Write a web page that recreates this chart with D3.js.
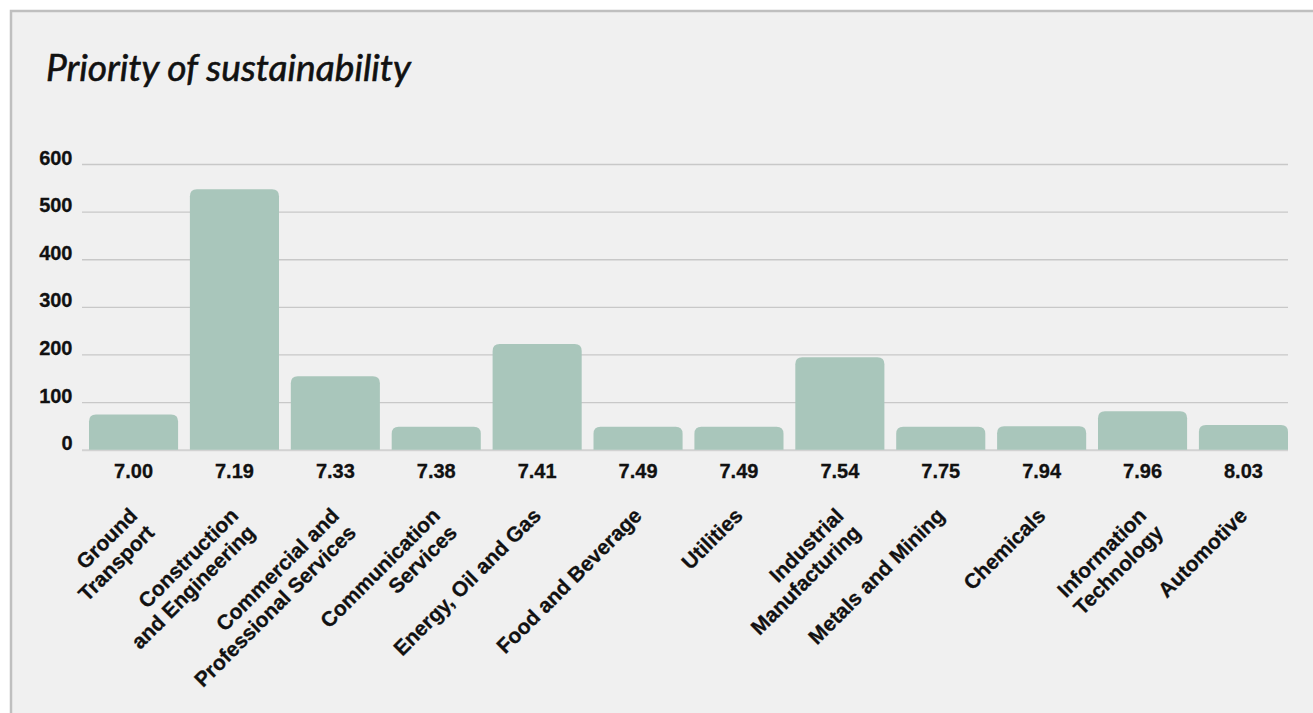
<!DOCTYPE html>
<html>
<head>
<meta charset="utf-8">
<script src="https://cdn.jsdelivr.net/npm/d3@7"></script>
<style>
  html, body { margin: 0; padding: 0; background: #ffffff; }
  svg { display: block; }
</style>
</head>
<body>
<svg id="chart" width="1313" height="713"></svg>
<script>
// Industry sectors, their average sustainability priority score, and respondent counts
const categories = [
  "Ground\nTransport",
  "Construction\nand Engineering",
  "Commercial and\nProfessional Services",
  "Communication\nServices",
  "Energy, Oil and Gas",
  "Food and Beverage",
  "Utilities",
  "Industrial\nManufacturing",
  "Metals and Mining",
  "Chemicals",
  "Information\nTechnology",
  "Automotive"
];
const scores = ["7.00", "7.19", "7.33", "7.38", "7.41", "7.49", "7.49", "7.54", "7.75", "7.94", "7.96", "8.03"];
const counts = [74, 547, 154, 48, 222, 48, 48, 194, 48, 49, 81, 52];
const yTicks = [0, 100, 200, 300, 400, 500, 600];

const svg = d3.select("#chart");
const W = 1313, H = 713;

// card background
svg.append("rect")
  .attr("x", 11).attr("y", 11)
  .attr("width", W + 20).attr("height", H + 20)
  .attr("fill", "#f0f0f0")
  .attr("stroke", "#bfbfbf")
  .attr("stroke-width", 2.5);

// title, sized to a fixed width
const title = svg.append("text")
  .attr("x", 46).attr("y", 81)
  .attr("font-family", "Lato, 'Noto Sans', sans-serif")
  .attr("font-style", "italic")
  .attr("font-size", 31)
  .attr("fill", "#111")
  .attr("stroke", "#111")
  .attr("stroke-width", 0.6)
  .text("Priority of sustainability");
const tw = title.node().getComputedTextLength();
title.attr("font-size", 31 * 365 / tw);

const plot = { left: 89, right: 1288, top: 164, bottom: 449.7 };

const x = d3.scaleBand()
  .domain(categories)
  .range([plot.left, plot.right])
  .paddingInner(0.117)
  .paddingOuter(0);

const y = d3.scaleLinear()
  .domain([0, 600])
  .range([plot.bottom, plot.top]);

const fontFam = "'Liberation Sans', Arial, Helvetica, sans-serif";

// y axis with gridlines
const gridLeft = 82;
const yAxis = svg.append("g")
  .attr("transform", `translate(${gridLeft},0)`)
  .call(d3.axisLeft(y)
    .tickValues(yTicks)
    .tickSize(-(plot.right - gridLeft))
    .tickPadding(9.5)
    .tickFormat(d3.format("d")));
yAxis.select(".domain").remove();
yAxis.selectAll(".tick line")
  .attr("stroke", d => d === 0 ? "#d2d2d2" : "#c8c8c8")
  .attr("stroke-width", d => d === 0 ? 2 : 1.3);
yAxis.selectAll(".tick text")
  .attr("dy", 0)
  .attr("font-family", fontFam)
  .attr("font-weight", "bold")
  .attr("font-size", 20)
  .attr("fill", "#111")
  .attr("stroke", "#111")
  .attr("stroke-width", 0.3);

// bars with rounded top corners
function topRounded(x0, y0, w, h, r) {
  r = Math.min(r, w / 2, h);
  return `M${x0},${y0 + h}V${y0 + r}Q${x0},${y0} ${x0 + r},${y0}` +
         `H${x0 + w - r}Q${x0 + w},${y0} ${x0 + w},${y0 + r}V${y0 + h}Z`;
}

svg.append("g").selectAll("path")
  .data(categories)
  .join("path")
  .attr("fill", "#a9c6bb")
  .attr("d", (c, i) => topRounded(x(c), y(counts[i]), x.bandwidth(), y(0) - y(counts[i]), 7));

// score labels under each bar
svg.append("g").selectAll("text")
  .data(categories)
  .join("text")
  .attr("x", c => x(c) + x.bandwidth() / 2)
  .attr("y", 478)
  .attr("text-anchor", "middle")
  .attr("font-family", fontFam)
  .attr("font-weight", "bold")
  .attr("font-size", 20)
  .attr("fill", "#111")
  .attr("stroke", "#111")
  .attr("stroke-width", 0.3)
  .text((c, i) => scores[i]);

// rotated category labels
const lineH = 24;
const catG = svg.append("g").selectAll("g")
  .data(categories)
  .join("g")
  .attr("transform", c => `translate(${x(c) + x.bandwidth() / 2 + 5},517) rotate(-45)`);
catG.each(function (c) {
  const lines = c.split("\n");
  const t = d3.select(this).append("text")
    .attr("text-anchor", "end")
    .attr("font-family", fontFam)
    .attr("font-weight", "bold")
    .attr("font-size", 21)
    .attr("fill", "#111")
    .attr("stroke", "#111")
    .attr("stroke-width", 0.3);
  lines.forEach((ln, k) => {
    t.append("tspan").attr("x", 0).attr("y", k * lineH).text(ln);
  });
});
</script>
</body>
</html>
